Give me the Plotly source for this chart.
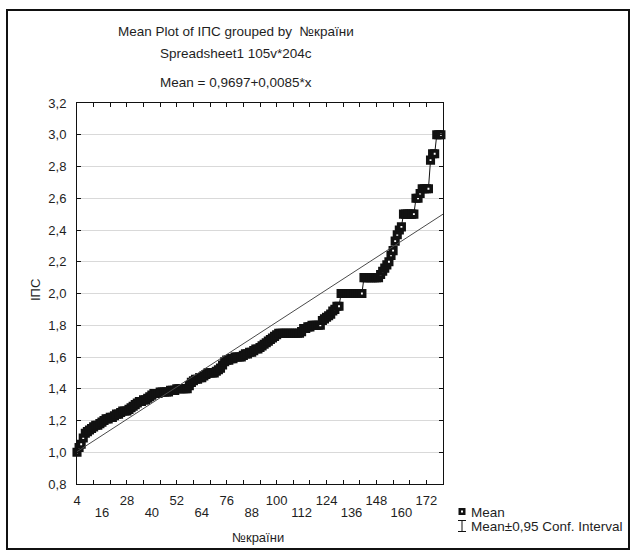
import plotly.graph_objects as go

# ---- data ----
countries = list(range(4, 180))  # №країни
mean_ips = [
    1.00, 1.03, 1.05, 1.09, 1.12, 1.13, 1.14, 1.15, 1.16, 1.17,   # 4-13
    1.17, 1.18, 1.19, 1.20, 1.21, 1.21, 1.22, 1.22, 1.23, 1.24,   # 14-23
    1.24, 1.25, 1.26, 1.26, 1.26, 1.27, 1.28, 1.29, 1.30, 1.31,   # 24-33
    1.32, 1.32, 1.33, 1.33, 1.34, 1.35, 1.36, 1.37, 1.37, 1.37,   # 34-43
    1.38, 1.38, 1.38, 1.38, 1.38, 1.39, 1.39, 1.39, 1.40, 1.40,   # 44-53
    1.40, 1.40, 1.40, 1.40, 1.42, 1.44, 1.45, 1.46, 1.46, 1.47,   # 54-63
    1.47, 1.48, 1.49, 1.50, 1.50, 1.50, 1.50, 1.51, 1.52, 1.53,   # 64-73
    1.55, 1.57, 1.58, 1.58, 1.59, 1.59, 1.60, 1.60, 1.60, 1.60,   # 74-83
    1.61, 1.62, 1.62, 1.63, 1.63, 1.64, 1.65, 1.65, 1.66, 1.67,   # 84-93
    1.68, 1.69, 1.70, 1.71, 1.72, 1.73, 1.74, 1.75, 1.75, 1.75,   # 94-103
    1.75, 1.75, 1.75, 1.75, 1.75, 1.75, 1.75, 1.75, 1.76, 1.78,   # 104-113
    1.78, 1.79, 1.79, 1.80, 1.80, 1.80, 1.80, 1.80, 1.83, 1.84,   # 114-123
    1.85, 1.86, 1.87, 1.89, 1.90, 1.92, 1.92, 2.00, 2.00, 2.00,   # 124-133
    2.00, 2.00, 2.00, 2.00, 2.00, 2.00, 2.00, 2.00, 2.10, 2.10,   # 134-143
    2.10, 2.10, 2.10, 2.10, 2.10, 2.10, 2.12, 2.14, 2.16, 2.18,   # 144-153
    2.20, 2.24, 2.27, 2.33, 2.37, 2.40, 2.42, 2.50, 2.50, 2.50,   # 154-163
    2.50, 2.50, 2.50, 2.60, 2.60, 2.63, 2.66, 2.66, 2.66, 2.66,   # 164-173
    2.84, 2.88, 2.88, 3.00, 3.00, 3.00,                           # 174-179
]
assert len(mean_ips) == len(countries)

fit_intercept = 0.9697
fit_slope = 0.0085
x_range = [4, 180]
y_range = [0.8, 3.2]
x_labels_row1 = [4, 28, 52, 76, 100, 124, 148, 172]
x_labels_row2 = [16, 40, 64, 88, 112, 136, 160]
x_tick_vals = list(range(4, 181, 8))
y_tick_vals = [0.8, 1.0, 1.2, 1.4, 1.6, 1.8, 2.0, 2.2, 2.4, 2.6, 2.8, 3.0, 3.2]

title_lines = ["Mean Plot of IПС grouped by  №країни", "Spreadsheet1 105v*204c",
               "Mean = 0,9697+0,0085*x"]

# ---- layout geometry (pixels) ----
W, H = 631, 552
L, R, T, B = 77, 443, 103, 484
PW, PH = R - L, B - T


def px(x):
    return (x - L) / PW


def py(y):
    return (B - y) / PH


FONT = "Liberation Sans, Arial, sans-serif"
TXT = "#1e1e1e"

fit_x = x_range
fit_y = [fit_intercept + fit_slope * v for v in fit_x]

fig = go.Figure()
fig.add_trace(go.Scatter(
    x=fit_x, y=fit_y, xaxis="x2", mode="lines",
    line=dict(color="#4a4a4a", width=1), hoverinfo="skip", showlegend=False,
))
fig.add_trace(go.Scatter(
    x=[], y=[], xaxis="x3", mode="lines", showlegend=False, hoverinfo="skip",
))
fig.add_trace(go.Scatter(
    x=countries, y=mean_ips, mode="lines+markers", cliponaxis=False,
    line=dict(color="#111111", width=1),
    marker=dict(symbol="square", size=5.5, color="white",
                line=dict(color="#111111", width=3.6)),
    showlegend=False, name="Mean",
))

label_axis = dict(
    range=x_range, overlaying="x", side="bottom", anchor="y",
    tickmode="array", ticks="", showline=False, showgrid=False, zeroline=False,
    tickfont=dict(size=13, color=TXT),
)

fig.update_layout(
    width=W, height=H,
    margin=dict(l=L, r=W - R, t=T, b=H - B, pad=0),
    paper_bgcolor="white", plot_bgcolor="white",
    separators=", ",
    font=dict(family=FONT, size=13, color=TXT),
    showlegend=False,
    xaxis=dict(
        range=x_range, tickmode="array", tickvals=x_tick_vals,
        ticktext=["" for _ in x_tick_vals],
        ticks="inside", ticklen=4, tickcolor="#111111", tickwidth=1,
        showline=True, linecolor="#111111", linewidth=1, mirror="ticks",
        showgrid=False, zeroline=False,
    ),
    xaxis2=dict(label_axis, tickvals=x_labels_row1,
                ticktext=[str(v) for v in x_labels_row1], ticklabelstandoff=7),
    xaxis3=dict(label_axis, tickvals=x_labels_row2,
                ticktext=[str(v) for v in x_labels_row2], ticklabelstandoff=19),
    yaxis=dict(
        range=y_range, tickmode="array", tickvals=y_tick_vals,
        tickformat=".1f",
        ticks="inside", ticklen=4, tickcolor="#111111", tickwidth=1,
        showline=True, linecolor="#111111", linewidth=1, mirror="ticks",
        showgrid=True, gridcolor="#d9d9d9", gridwidth=1, zeroline=False,
        tickfont=dict(size=13, color=TXT), ticklabelstandoff=7,
    ),
)

ann = []
for text, ypix in zip(title_lines, [32, 53, 83]):
    ann.append(dict(text=text, x=px(236), y=py(ypix), xref="paper", yref="paper",
                    xanchor="center", yanchor="middle", showarrow=False,
                    font=dict(size=13.5, color=TXT)))
ann.append(dict(text="IПС", x=px(35), y=py(290), xref="paper", yref="paper",
                textangle=-90, xanchor="center", yanchor="middle", showarrow=False,
                font=dict(size=13, color=TXT)))
ann.append(dict(text="№країни", x=px(258), y=py(537), xref="paper", yref="paper",
                xanchor="center", yanchor="middle", showarrow=False,
                font=dict(size=13, color=TXT)))
ann.append(dict(text="Mean", x=px(469), y=py(512), xref="paper", yref="paper",
                xanchor="left", yanchor="middle", showarrow=False,
                font=dict(size=13.5, color=TXT)))
ann.append(dict(text="Mean±0,95 Conf. Interval", x=px(469), y=py(526),
                xref="paper", yref="paper", xanchor="left", yanchor="middle",
                showarrow=False, font=dict(size=13.5, color=TXT)))
fig.update_layout(annotations=ann)

shapes = [
    # outer frame
    dict(type="rect", xref="paper", yref="paper", x0=px(7), x1=px(629),
         y0=py(549), y1=py(10), line=dict(color="#111111", width=2)),
    # legend: mean marker
    dict(type="rect", xref="paper", yref="paper", x0=px(458.5), x1=px(465.5),
         y0=py(515), y1=py(508), fillcolor="#111111", line=dict(width=0)),
    dict(type="rect", xref="paper", yref="paper", x0=px(461), x1=px(463),
         y0=py(512.5), y1=py(510.5), fillcolor="white", line=dict(width=0)),
    # legend: conf. interval whisker
    dict(type="line", xref="paper", yref="paper", x0=px(458), x1=px(466),
         y0=py(520.5), y1=py(520.5), line=dict(color="#111111", width=1)),
    dict(type="line", xref="paper", yref="paper", x0=px(462), x1=px(462),
         y0=py(520.5), y1=py(531.5), line=dict(color="#111111", width=1)),
    dict(type="line", xref="paper", yref="paper", x0=px(458), x1=px(466),
         y0=py(531.5), y1=py(531.5), line=dict(color="#111111", width=1)),
]
fig.update_layout(shapes=shapes)

fig.write_html(
    "out.html",
    config={"displayModeBar": False},
    post_script="document.body.style.margin='0';document.body.style.overflow='hidden';",
)
